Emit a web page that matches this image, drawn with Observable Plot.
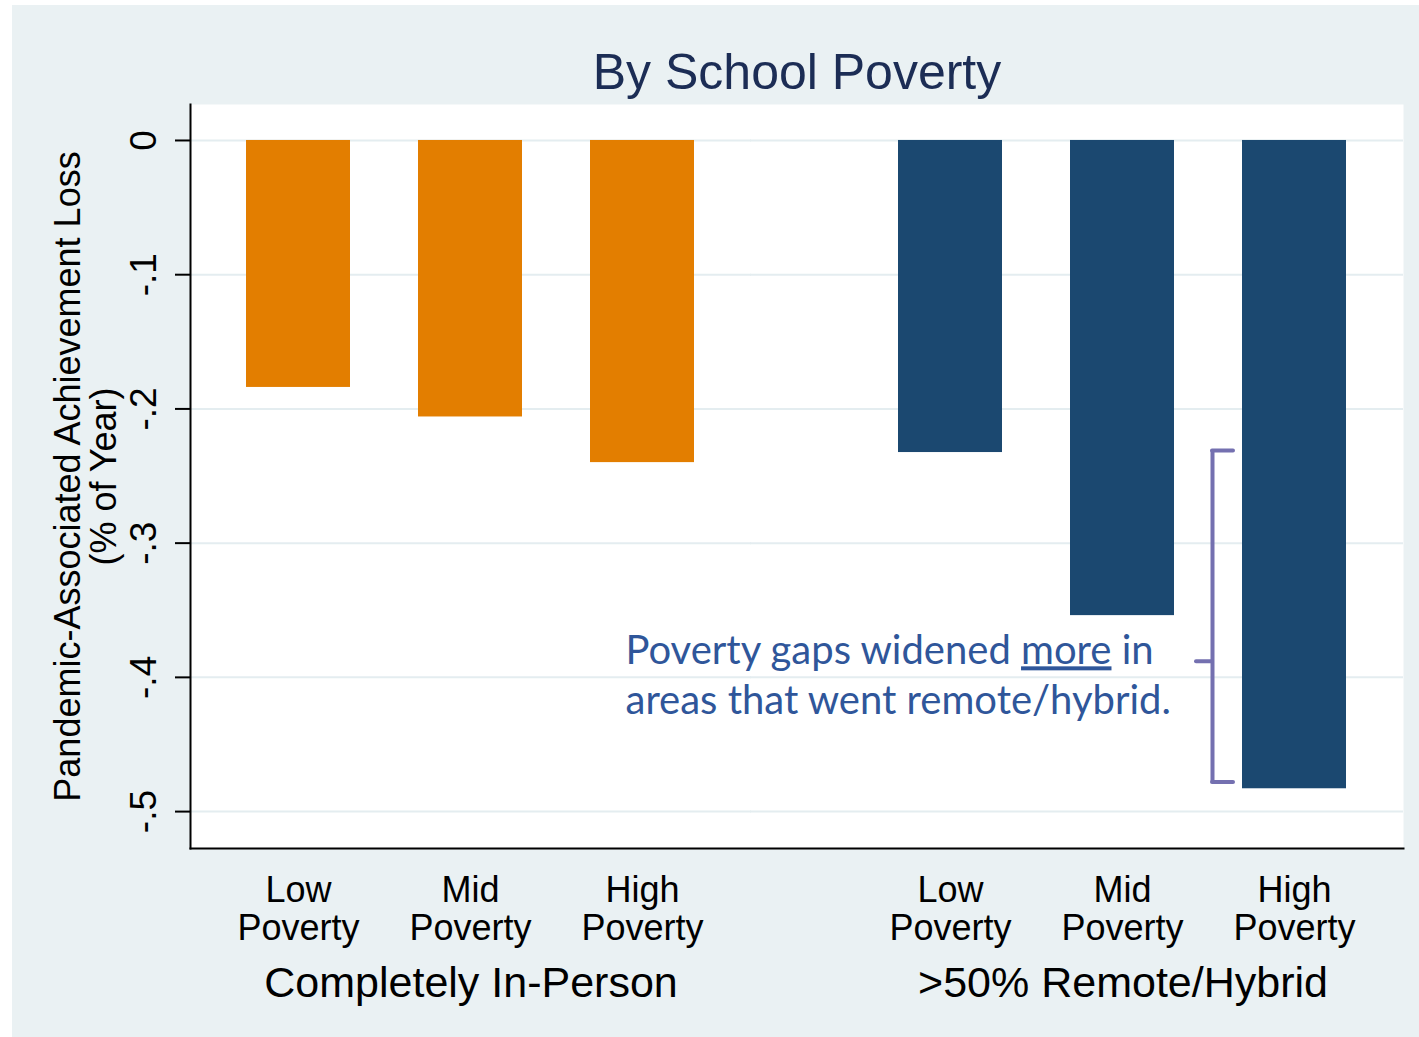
<!DOCTYPE html>
<html>
<head>
<meta charset="utf-8">
<script src="https://cdn.jsdelivr.net/npm/d3@7"></script>
<script src="https://cdn.jsdelivr.net/npm/@observablehq/plot@0.6"></script>
<style>
  html, body { margin: 0; padding: 0; background: #ffffff; }
  #wrap { position: absolute; left: 12px; top: 5px; width: 1407px; height: 1032px; background: #eaf1f3; overflow: hidden; }
  #title { box-sizing: border-box; height: 99px; margin: 0; padding: 42px 15px 0 178px; text-align: center;
           font-family: "Liberation Sans", Arial, sans-serif; font-size: 50px; line-height: 50px; font-weight: normal; color: #1c2d55; }
  #chart svg { display: block; }
</style>
</head>
<body>
<div id="wrap">
  <div id="title">By School Poverty</div>
  <div id="chart"></div>
</div>
<script>
// ---- data ----
const groups = ["Completely In-Person", ">50% Remote/Hybrid"];
const categories = ["Low Poverty", "Mid Poverty", "High Poverty"];
const inPersonLoss = [-0.184, -0.206, -0.240];
const remoteLoss = [-0.2325, -0.354, -0.483];
const groupColors = ["#e37e00", "#1b4870"];
const yTicks = [0, -0.1, -0.2, -0.3, -0.4, -0.5];
const yLabel = "Pandemic-Associated Achievement Loss\n(% of Year)";
const noteLines = ["Poverty gaps widened more in", "areas that went remote/hybrid."];
const noteY = -0.397;
const bracketTop = -0.231;
const bracketBottom = -0.478;
const bracketMid = -0.388;

const rows = [
  ...categories.map((c, i) => ({group: groups[0], cat: c, value: inPersonLoss[i]})),
  ...categories.map((c, i) => ({group: groups[1], cat: c, value: remoteLoss[i]}))
];

const bracketColor = "#7470b0";
const bracketRows = [{group: groups[1], cat: categories[2]}];
const fmt = d => d === 0 ? "0" : String(d).replace("0.", ".");
const gridStyle = {stroke: "#e4edf0", strokeWidth: 2};

const plot = Plot.plot({
  width: 1407,
  height: 933,
  marginTop: 0,
  marginLeft: 178,
  marginRight: 15,
  marginBottom: 189,
  style: {fontFamily: "'Liberation Sans', Arial, sans-serif", color: "#000", background: "transparent", overflow: "visible"},
  fx: {domain: groups, paddingInner: 0.1395, paddingOuter: 0},
  x: {domain: categories, paddingInner: 0.3953, paddingOuter: 0.325},
  y: {domain: [-0.5275, 0.0268]},
  color: {domain: groups, range: groupColors},
  marks: [
    Plot.frame({fill: "white", stroke: "none", facet: "super"}),
    Plot.ruleY(yTicks.map(y => ({group: groups[0], y})), {fx: "group", y: "y", ...gridStyle}),
    Plot.ruleY(yTicks.map(y => ({group: groups[1], y})), {fx: "group", y: "y", insetLeft: -92, ...gridStyle}),
    Plot.barY(rows, {fx: "group", x: "cat", y: "value", fill: "group"}),
    Plot.frame({anchor: "left", stroke: "#000", strokeWidth: 2, facet: "super"}),
    Plot.frame({anchor: "bottom", stroke: "#000", strokeWidth: 2, facet: "super"}),
    Plot.axisY({ticks: yTicks, tickFormat: fmt, tickSize: 15, tickPadding: 20, tickRotate: -90, fontSize: 37, label: null, strokeWidth: 2}),
    Plot.axisX({tickSize: 0, tickPadding: 26, fontSize: 36, lineHeight: 1.06, tickFormat: d => d.replace(" ", "\n"), label: null}),
    Plot.axisFx({anchor: "bottom", tickSize: 0, tickPadding: 118, fontSize: 43, label: null}),
    Plot.text([yLabel], {text: d => d, frameAnchor: "left", rotate: -90, dx: -104, lineAnchor: "middle", textAnchor: "middle", lineHeight: 1.0, fontSize: 36, fill: "#000", facet: "super"}),
    // annotation text
    Plot.text([{group: groups[1], cat: categories[0], text: noteLines.join("\n")}], {
      fx: "group", x: "cat", y: () => noteY, text: "text", textAnchor: "start", lineAnchor: "middle",
      dx: -325, lineHeight: 1.25, fontSize: 40, fontFamily: "Lato", fill: "#2f569a"
    }),
    // bracket
    Plot.ruleX(bracketRows, {fx: "group", x: "cat", y1: () => bracketTop, y2: () => bracketBottom, dx: -82, stroke: bracketColor, strokeWidth: 4}),
    Plot.tickY(bracketRows, {fx: "group", x: "cat", y: () => bracketTop, dx: -82, insetLeft: 52, insetRight: 31, stroke: bracketColor, strokeWidth: 4, strokeLinecap: "round"}),
    Plot.tickY(bracketRows, {fx: "group", x: "cat", y: () => bracketBottom, dx: -82, insetLeft: 52, insetRight: 31, stroke: bracketColor, strokeWidth: 4, strokeLinecap: "round"}),
    Plot.tickY(bracketRows, {fx: "group", x: "cat", y: () => bracketMid, dx: -82, insetLeft: 36, insetRight: 52, stroke: bracketColor, strokeWidth: 4, strokeLinecap: "round"})
  ]
});

document.getElementById("chart").appendChild(plot);

// underline the word "more" in the note
plot.querySelectorAll("tspan, text").forEach(el => {
  if (el.childElementCount === 0 && el.textContent === noteLines[0]) {
    const word = "more";
    const idx = noteLines[0].indexOf(word);
    el.textContent = "";
    el.appendChild(document.createTextNode(noteLines[0].slice(0, idx)));
    const u = document.createElementNS("http://www.w3.org/2000/svg", "tspan");
    u.setAttribute("text-decoration", "underline");
    u.style.textDecoration = "underline";
    u.textContent = word;
    el.appendChild(u);
    el.appendChild(document.createTextNode(noteLines[0].slice(idx + word.length)));
  }
});
</script>
</body>
</html>
